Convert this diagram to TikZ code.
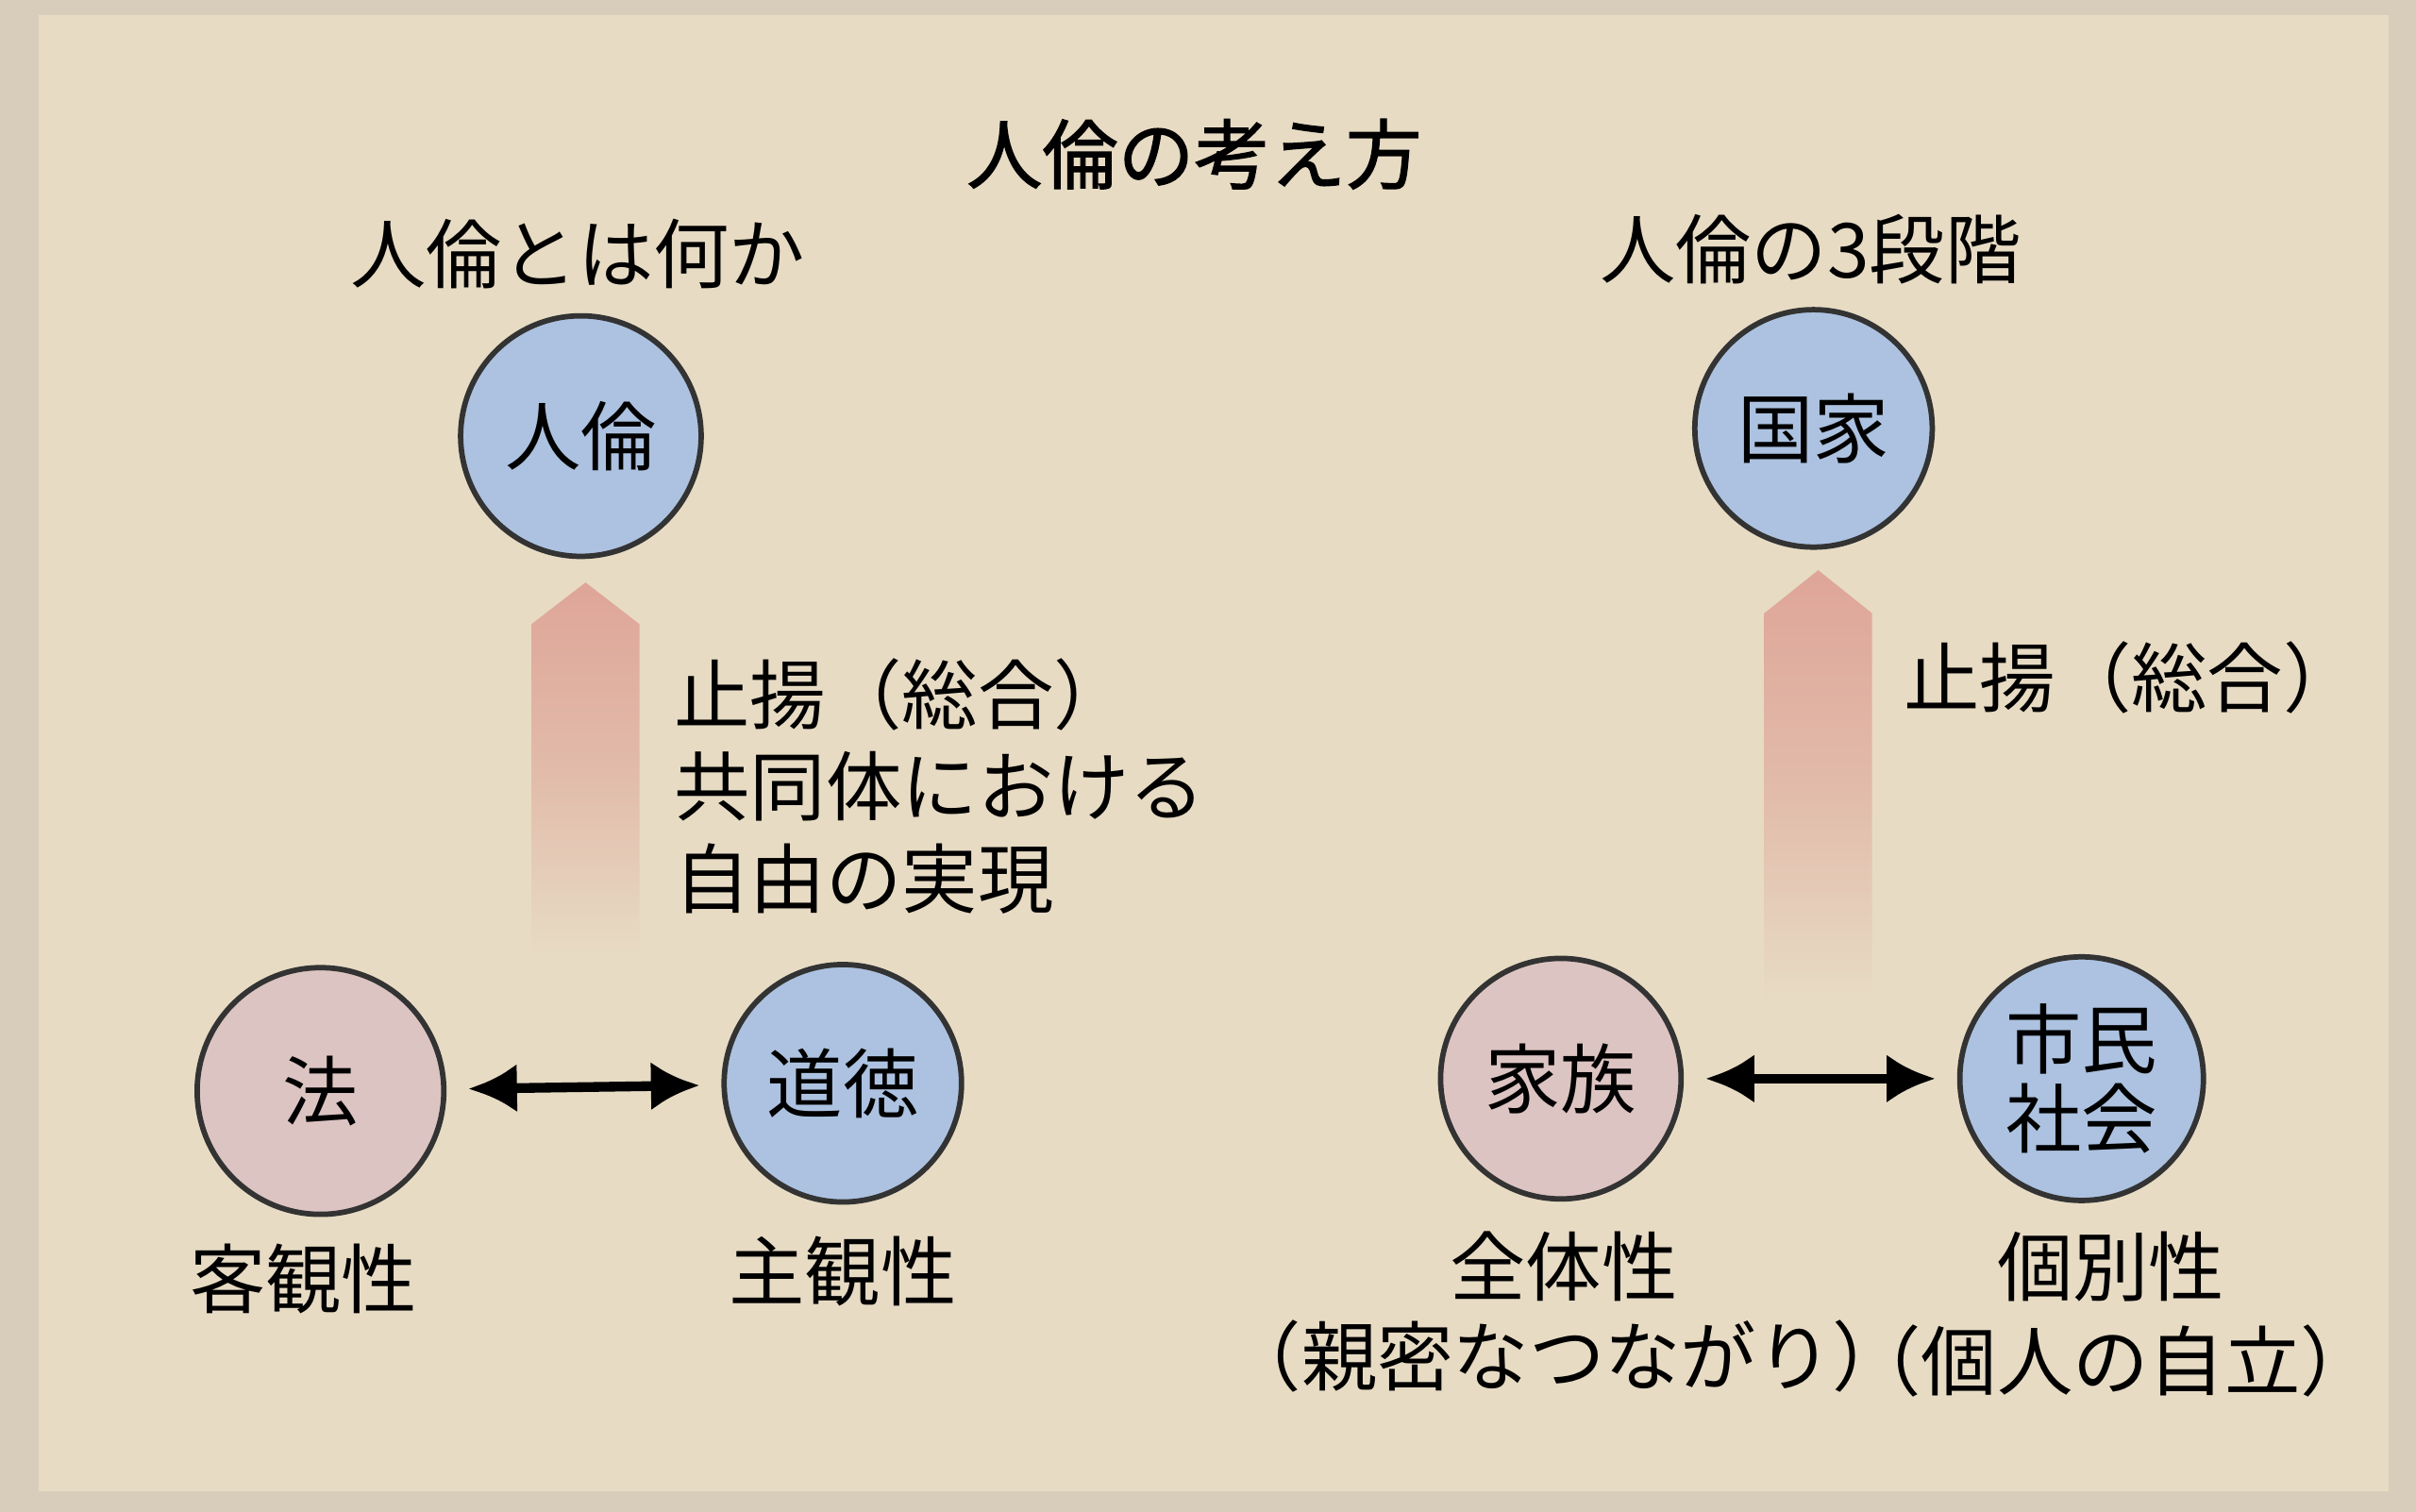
\documentclass[tikz,border=0pt]{standalone}
\usepackage{fontspec}
\newfontfamily\cjk{Noto Sans CJK JP}
\newfontfamily\cjkb[FakeBold=1.5]{Noto Sans CJK JP}
\usetikzlibrary{arrows.meta,shadings}
\definecolor{bg}{RGB}{231,219,196}
\definecolor{cblue}{RGB}{172,194,224}
\definecolor{cpink}{RGB}{220,196,194}
\definecolor{apink}{RGB}{222,165,152}
\begin{document}
\begin{tikzpicture}[x=0.01cm,y=-0.01cm,
  lbl/.style={font=\cjk\fontsize{14}{18}\selectfont,align=center,inner sep=0},
  circ/.style={circle,draw=black!80,line width=1pt,minimum size=#1,font=\cjk\fontsize{14}{16}\selectfont,align=center,inner sep=0},
  bcirc/.style={circ=#1,fill=cblue},
  pcirc/.style={circ=#1,fill=cpink},
  dbl/.style={{Latex[length=9pt,width=9pt]}-{Latex[length=9pt,width=9pt]},line width=1.8pt,shorten <=4pt,shorten >=4pt}]
\useasboundingbox (0,0) rectangle (1568,981);
\fill[bg!85!gray] (0,0) rectangle (1568,981);
\fill[bg] (25,10) rectangle (1550,968);
\node[lbl,font=\cjkb\fontsize{14}{18}\selectfont] (title) at (775,100) {人倫の考え方};
\node[lbl] (h1) at (375,165) {人倫とは何か};
\node[lbl] (h2) at (1175,162) {人倫の3段階};
% arrows
\shade[top color=apink,bottom color=bg,middle color=apink!60!bg] (345,620) -- (345,405) -- (380,378) -- (415,405) -- (415,620) -- cycle;
\shade[top color=apink,bottom color=bg,middle color=apink!60!bg] (1145,650) -- (1145,398) -- (1180,370) -- (1215,398) -- (1215,650) -- cycle;
\node[bcirc=1.56cm] (jinrin) at (377,283) {人倫};
\node[bcirc=1.54cm] (kokka) at (1177,278) {国家};
\node[lbl,align=left,anchor=west,font=\cjk\fontsize{14}{17}\selectfont] (t1) at (437,510) {止揚（総合）\\共同体における\\自由の実現};
\node[lbl,anchor=west] (t2) at (1235,440) {止揚（総合）};
\node[pcirc=1.6cm] (hou) at (208,708) {法};
\node[bcirc=1.54cm] (dotoku) at (547,703) {道徳};
\node[pcirc=1.56cm] (kazoku) at (1013,700) {家族};
\node[bcirc=1.58cm,font=\cjk\fontsize{14}{14.5}\selectfont] (shimin) at (1351,700) {市民\\社会};
\draw[dbl] (hou) -- (dotoku);
\draw[dbl] (kazoku) -- (shimin);
\node[lbl] (k1) at (197,830) {客観性};
\node[lbl] (k2) at (547,825) {主観性};
\node[lbl] (k3) at (1015,822) {全体性};
\node[lbl] (k4) at (1370,822) {個別性};
\node[lbl] (k5) at (1017,880) {（親密なつながり）};
\node[lbl] (k6) at (1370,883) {（個人の自立）};
\end{tikzpicture}
\end{document}
